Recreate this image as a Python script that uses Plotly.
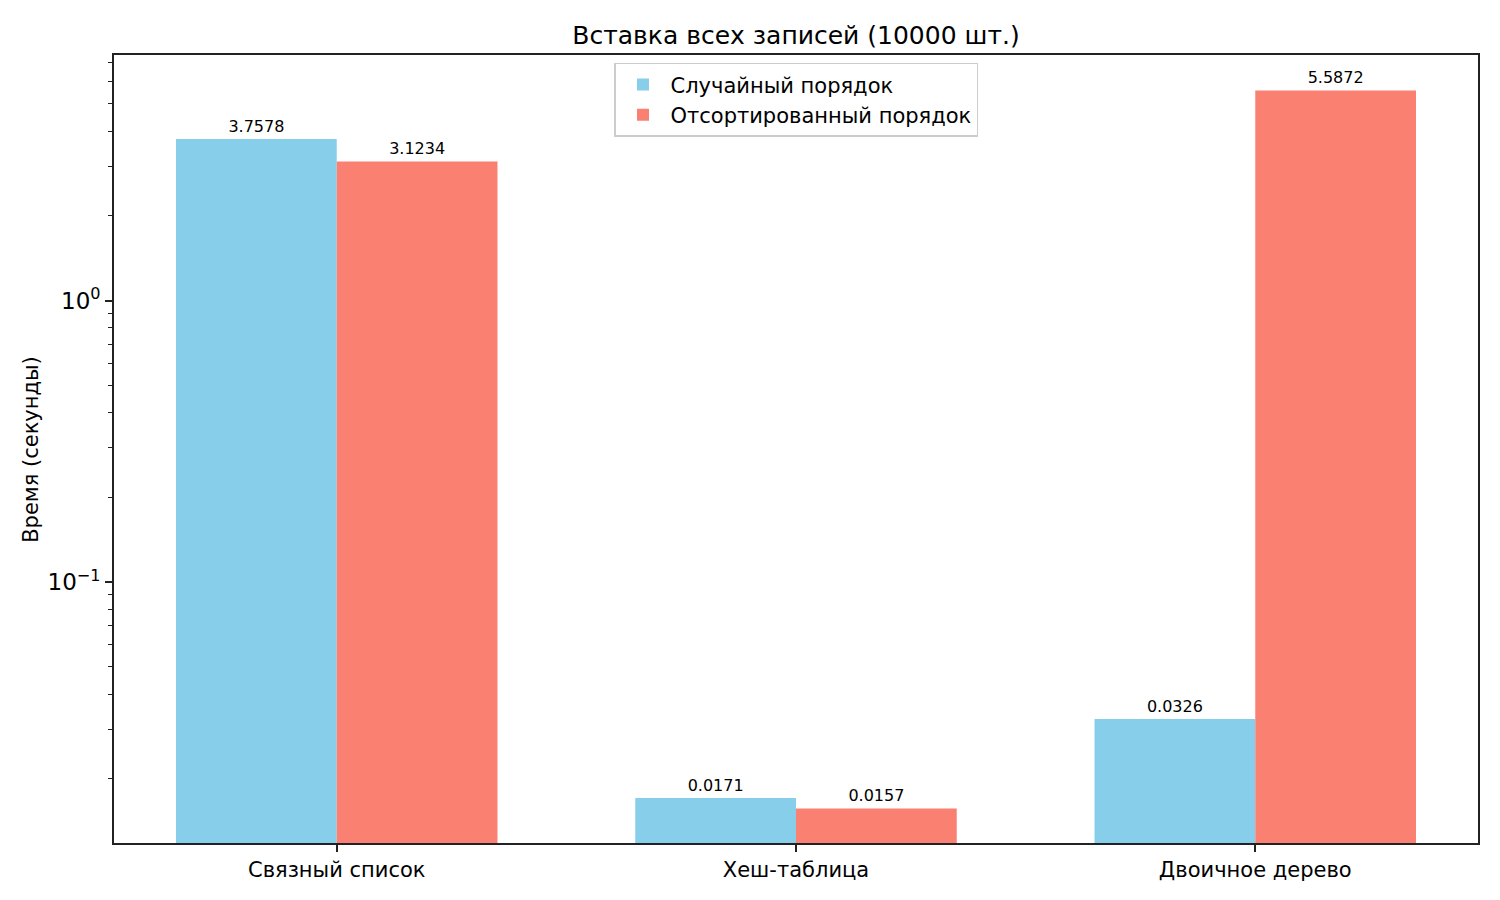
import plotly.graph_objects as go

# timings
structures = ["Связный список", "Хеш-таблица", "Двоичное дерево"]
random_times = [3.7578, 0.0171, 0.0326]
sorted_times = [3.1234, 0.0157, 5.5872]

major_ticks = [0.1, 1]
major_labels = ["10<sup>−1</sup>", "10<sup>0</sup>"]
minor_ticks = [0.02, 0.03, 0.04, 0.05, 0.06, 0.07, 0.08, 0.09,
               0.2, 0.3, 0.4, 0.5, 0.6, 0.7, 0.8, 0.9,
               2, 3, 4, 5, 6, 7]

FONT = "DejaVu Sans"

fig = go.Figure()
fig.add_trace(go.Bar(
    x=structures, y=random_times, name="Случайный порядок",
    marker=dict(color="#87CEEB", line=dict(width=0)),
    texttemplate="%{y:.4f}", textposition="outside",
    textfont=dict(size=16, color="black", family=FONT),
    cliponaxis=False,
))
fig.add_trace(go.Bar(
    x=structures, y=sorted_times, name="Отсортированный порядок",
    marker=dict(color="#FA8072", line=dict(width=0)),
    texttemplate="%{y:.4f}", textposition="outside",
    textfont=dict(size=16, color="black", family=FONT),
    cliponaxis=False,
))

axis_line = dict(showline=True, mirror=True, linecolor="#222222", linewidth=1.6)

# page body adds an 8px offset, so the figure is a bit smaller than the window
fig.update_layout(
    width=1492, height=892,
    margin=dict(l=106, r=22, t=47, b=57),
    paper_bgcolor="white", plot_bgcolor="white",
    font=dict(family=FONT, size=21, color="black"),
    barmode="group", bargap=0.3, bargroupgap=0,
    title=dict(text="Вставка всех записей (10000 шт.)", x=0.5, xref="paper",
               y=1 - 27 / 892, yanchor="middle", font=dict(size=25)),
    showlegend=True,
    legend=dict(x=0.5, xanchor="center", y=0.99, yanchor="top",
                bgcolor="rgba(255,255,255,0.8)", bordercolor="#cccccc",
                borderwidth=1.5, font=dict(size=21), itemwidth=45),
    xaxis=dict(range=[-0.485, 2.485], ticks="outside", ticklen=7, tickwidth=1.6,
               tickcolor="#222222", showgrid=False, zeroline=False, **axis_line),
    yaxis=dict(type="log", range=[-1.927, 0.873], tickmode="array",
               tickvals=major_ticks, ticktext=major_labels,
               ticks="outside", ticklen=7, tickwidth=1.6, tickcolor="#222222",
               tickfont=dict(size=23),
               showgrid=False, zeroline=False,
               minor=dict(tickmode="array", tickvals=minor_ticks, ticks="outside",
                          ticklen=4, tickwidth=1.2, tickcolor="#222222", showgrid=False),
               **axis_line),
)

fig.add_annotation(text="Время (секунды)", xref="paper", yref="paper",
                   x=-0.061, y=0.5, xanchor="center", yanchor="middle",
                   textangle=-90, showarrow=False, font=dict(size=21))

fig.write_html("out.html")
